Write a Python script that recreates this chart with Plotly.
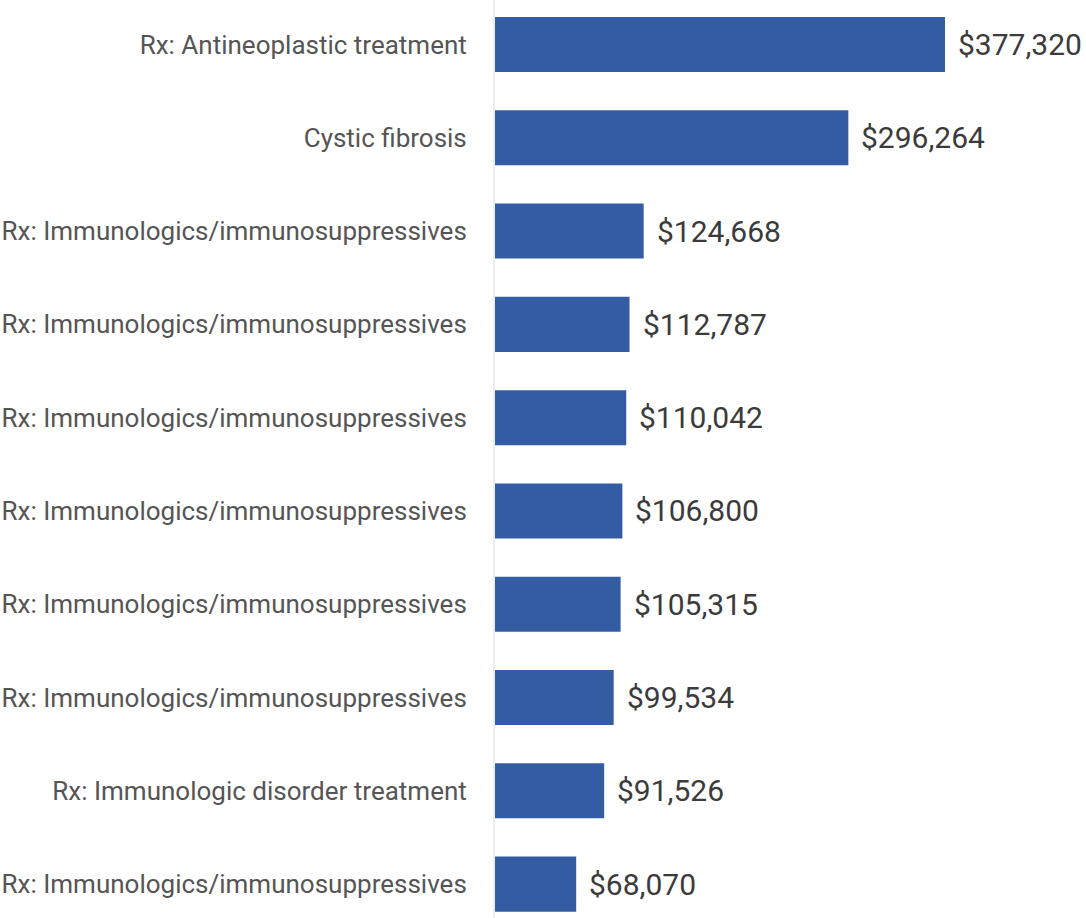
import plotly.graph_objects as go

# Cost per category, top to bottom
categories = [
    "Rx: Antineoplastic treatment",
    "Cystic fibrosis",
    "Rx: Immunologics/immunosuppressives",
    "Rx: Immunologics/immunosuppressives",
    "Rx: Immunologics/immunosuppressives",
    "Rx: Immunologics/immunosuppressives",
    "Rx: Immunologics/immunosuppressives",
    "Rx: Immunologics/immunosuppressives",
    "Rx: Immunologic disorder treatment",
    "Rx: Immunologics/immunosuppressives",
]
costs = [377320, 296264, 124668, 112787, 110042, 106800, 105315, 99534, 91526, 68070]

positions = list(range(len(categories)))
value_labels = [f"${v:,.0f}" for v in costs]

BAR_COLOR = "#335ca3"
FONT = "Roboto, Inter, sans-serif"

fig = go.Figure(
    go.Bar(
        x=costs,
        y=positions,
        orientation="h",
        width=0.59,
        marker=dict(color=BAR_COLOR, line=dict(width=0)),
        hoverinfo="skip",
    )
)

for pos, val, lab in zip(positions, costs, value_labels):
    fig.add_annotation(
        x=val, y=pos, text=lab, showarrow=False,
        xanchor="left", yanchor="middle", xshift=11,
        font=dict(family=FONT, size=30, color="#3b3b3b"),
    )

fig.update_layout(
    width=1086, height=918,
    margin=dict(l=495, r=0, t=0, b=0),
    paper_bgcolor="white", plot_bgcolor="white",
    showlegend=False,
    font=dict(family=FONT),
)
fig.update_xaxes(
    range=[0, 495540], visible=False, showgrid=False, zeroline=False,
)
fig.update_yaxes(
    range=[9.363, -0.477],
    tickmode="array", tickvals=positions, ticktext=categories,
    showgrid=False, zeroline=False,
    showline=True, linecolor="#ededed", linewidth=2,
    ticks="", ticklabelstandoff=21,
    tickfont=dict(family=FONT, size=26, color="#555555"),
)

fig.write_html("out.html")
